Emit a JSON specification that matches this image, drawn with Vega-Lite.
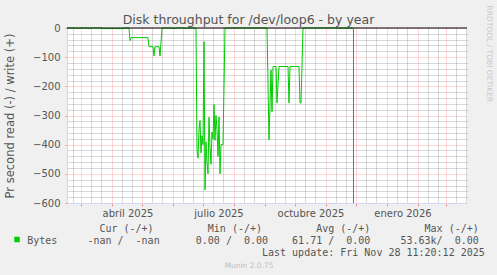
{
  "$schema": "https://vega.github.io/schema/vega-lite/v6.json",
  "width": 400,
  "height": 175,
  "autosize": {"type": "none"},
  "padding": {"left": 67, "top": 28, "right": 30, "bottom": 72},
  "background": "#f0f0f0",
  "view": {"fill": "#ffffff", "stroke": null},
  "title": {
    "text": "Disk throughput for /dev/loop6 - by year",
    "font": "DejaVu Sans",
    "fontSize": 12.5,
    "fontWeight": "normal",
    "color": "#555555",
    "anchor": "middle",
    "frame": "group",
    "baseline": "alphabetic",
    "dx": -18.5,
    "offset": -31.5
  },
  "resolve": {"axis": {"x": "independent", "y": "independent"}},
  "layer": [
    {
      "data": {"values": [
        {"date": "2025-02-15", "value": 0},
        {"date": "2025-02-25", "value": 0},
        {"date": "2025-02-26", "value": -3},
        {"date": "2025-02-27", "value": 0},
        {"date": "2025-03-07", "value": 0},
        {"date": "2025-03-08", "value": -3},
        {"date": "2025-03-10", "value": 0},
        {"date": "2025-03-22", "value": 0},
        {"date": "2025-03-23", "value": -2},
        {"date": "2025-04-12", "value": -2},
        {"date": "2025-04-14", "value": 0},
        {"date": "2025-04-18", "value": 0},
        {"date": "2025-04-19", "value": -43},
        {"date": "2025-04-20", "value": -33},
        {"date": "2025-05-07", "value": -33},
        {"date": "2025-05-08", "value": -64},
        {"date": "2025-05-12", "value": -64},
        {"date": "2025-05-13", "value": -96},
        {"date": "2025-05-14", "value": -64},
        {"date": "2025-05-18", "value": -64},
        {"date": "2025-05-19", "value": -96},
        {"date": "2025-05-21", "value": 0},
        {"date": "2025-05-31", "value": 0},
        {"date": "2025-06-01", "value": -2},
        {"date": "2025-06-05", "value": 0},
        {"date": "2025-06-12", "value": 0},
        {"date": "2025-06-13", "value": -2},
        {"date": "2025-06-17", "value": 0},
        {"date": "2025-06-24", "value": 0},
        {"date": "2025-06-25", "value": -420},
        {"date": "2025-06-26", "value": -446},
        {"date": "2025-06-27", "value": -350},
        {"date": "2025-06-28", "value": -317},
        {"date": "2025-06-29", "value": -428},
        {"date": "2025-06-30", "value": -370},
        {"date": "2025-07-01", "value": -400},
        {"date": "2025-07-02", "value": -47},
        {"date": "2025-07-03", "value": -555},
        {"date": "2025-07-04", "value": -390},
        {"date": "2025-07-05", "value": -461},
        {"date": "2025-07-06", "value": -500},
        {"date": "2025-07-07", "value": -306},
        {"date": "2025-07-08", "value": -410},
        {"date": "2025-07-09", "value": -467},
        {"date": "2025-07-10", "value": -357},
        {"date": "2025-07-11", "value": -380},
        {"date": "2025-07-12", "value": -262},
        {"date": "2025-07-13", "value": -385},
        {"date": "2025-07-14", "value": -300},
        {"date": "2025-07-15", "value": -350},
        {"date": "2025-07-16", "value": -440},
        {"date": "2025-07-17", "value": -305},
        {"date": "2025-07-18", "value": -500},
        {"date": "2025-07-19", "value": -400},
        {"date": "2025-07-20", "value": -400},
        {"date": "2025-07-21", "value": -400},
        {"date": "2025-07-23", "value": 0},
        {"date": "2025-09-03", "value": 0},
        {"date": "2025-09-05", "value": -384},
        {"date": "2025-09-07", "value": -144},
        {"date": "2025-09-08", "value": -287},
        {"date": "2025-09-09", "value": -132},
        {"date": "2025-09-12", "value": -132},
        {"date": "2025-09-13", "value": -257},
        {"date": "2025-09-15", "value": -132},
        {"date": "2025-09-24", "value": -132},
        {"date": "2025-09-25", "value": -257},
        {"date": "2025-09-26", "value": -132},
        {"date": "2025-10-05", "value": -132},
        {"date": "2025-10-06", "value": -257},
        {"date": "2025-10-07", "value": -257},
        {"date": "2025-10-09", "value": 0},
        {"date": "2025-11-28", "value": 0}
      ]},
      "mark": {"type": "line", "strokeWidth": 1, "interpolate": "linear"},
      "encoding": {
        "x": {
          "field": "date",
          "type": "temporal",
          "scale": {"type": "utc", "domain": [
            {"year": 2025, "month": 2, "date": 15, "utc": true},
            {"year": 2026, "month": 3, "date": 22, "utc": true}
          ]},
          "axis": {
            "orient": "bottom",
            "values": [
              {"year": 2025, "month": 3, "date": 1, "utc": true},
              {"year": 2025, "month": 4, "date": 1, "utc": true},
              {"year": 2025, "month": 5, "date": 1, "utc": true},
              {"year": 2025, "month": 6, "date": 1, "utc": true},
              {"year": 2025, "month": 7, "date": 1, "utc": true},
              {"year": 2025, "month": 8, "date": 1, "utc": true},
              {"year": 2025, "month": 9, "date": 1, "utc": true},
              {"year": 2025, "month": 10, "date": 1, "utc": true},
              {"year": 2025, "month": 11, "date": 1, "utc": true},
              {"year": 2025, "month": 12, "date": 1, "utc": true},
              {"year": 2026, "month": 1, "date": 1, "utc": true},
              {"year": 2026, "month": 2, "date": 1, "utc": true},
              {"year": 2026, "month": 3, "date": 1, "utc": true}
            ],
            "grid": true,
            "gridColor": "#ff0000",
            "gridOpacity": 0.3,
            "gridDash": [1, 1],
            "domain": true,
            "domainColor": "#cfd6f8",
            "ticks": true,
            "tickSize": 3,
            "tickColor": "#ff0000",
            "tickOpacity": 0.4,
            "labelExpr": "utcmonth(datum.value)==3 ? 'abril ' + utcyear(datum.value) : utcmonth(datum.value)==6 ? 'julio ' + utcyear(datum.value) : utcmonth(datum.value)==9 ? 'octubre ' + utcyear(datum.value) : utcmonth(datum.value)==0 ? 'enero ' + utcyear(datum.value) : ''",
            "labelOffset": 15.5,
            "labelFont": "DejaVu Sans",
            "labelFontSize": 10,
            "labelColor": "#555555",
            "labelBaseline": "alphabetic",
            "labelPadding": 10.5,
            "labelOverlap": false,
            "labelFlush": false,
            "labelBound": false,
            "title": [
              "\u200b\u00a0\u00a0\u00a0\u00a0\u00a0\u00a0\u00a0\u00a0\u00a0\u00a0\u00a0\u00a0Cur\u00a0(-/+)\u00a0\u00a0\u00a0\u00a0\u00a0\u00a0\u00a0\u00a0\u00a0Min\u00a0(-/+)\u00a0\u00a0\u00a0\u00a0\u00a0\u00a0\u00a0\u00a0\u00a0Avg\u00a0(-/+)\u00a0\u00a0\u00a0\u00a0\u00a0\u00a0\u00a0\u00a0\u00a0Max\u00a0(-/+)",
              "Bytes\u00a0\u00a0\u00a0\u00a0\u00a0-nan\u00a0/\u00a0\u00a0-nan\u00a0\u00a0\u00a0\u00a0\u00a0\u00a00.00\u00a0/\u00a0\u00a00.00\u00a0\u00a0\u00a0\u00a061.71\u00a0/\u00a0\u00a00.00\u00a0\u00a0\u00a0\u00a0\u00a053.63k/\u00a0\u00a00.00",
              "\u200b\u00a0\u00a0\u00a0\u00a0\u00a0\u00a0\u00a0\u00a0\u00a0\u00a0\u00a0\u00a0\u00a0\u00a0\u00a0\u00a0\u00a0\u00a0\u00a0\u00a0\u00a0\u00a0\u00a0\u00a0\u00a0\u00a0\u00a0\u00a0\u00a0\u00a0\u00a0\u00a0\u00a0\u00a0\u00a0\u00a0\u00a0\u00a0\u00a0Last\u00a0update:\u00a0Fri\u00a0Nov\u00a028\u00a011:20:12\u00a02025"
            ],
            "titleFont": "DejaVu Sans Mono",
            "titleFontSize": 10,
            "titleFontWeight": "normal",
            "titleColor": "#555555",
            "titleAlign": "left",
            "titleBaseline": "alphabetic",
            "titleAngle": 0,
            "titleX": -40.3,
            "titleY": 28.6,
            "titleLineHeight": 11.85
          }
        },
        "y": {
          "field": "value",
          "type": "quantitative",
          "scale": {"domain": [-600, 0], "nice": false, "zero": false},
          "axis": {
            "orient": "left",
            "values": [-600, -500, -400, -300, -200, -100, 0],
            "grid": true,
            "gridColor": "#ff0000",
            "gridOpacity": 0.3,
            "gridDash": [1, 1],
            "domain": true,
            "domainColor": "#cfd6f8",
            "ticks": true,
            "tickSize": 2,
            "tickColor": "#ff0000",
            "tickOpacity": 0.4,
            "labelFont": "DejaVu Sans",
            "labelFontSize": 10,
            "labelColor": "#555555",
            "labelPadding": 5,
            "title": "Pr second read (-) / write (+)",
            "titleFont": "DejaVu Sans",
            "titleFontSize": 11.5,
            "titleFontWeight": "normal",
            "titleColor": "#555555",
            "titleAngle": -90,
            "titleAlign": "center",
            "titleBaseline": "alphabetic",
            "titleX": -53.5,
            "titleY": 87.5
          }
        },
        "color": {
          "datum": "Bytes",
          "type": "nominal",
          "scale": {"range": ["#00cc00"]},
          "legend": {
            "orient": "none",
            "legendX": -53,
            "legendY": 208.5,
            "title": null,
            "symbolType": "square",
            "symbolSize": 30,
            "symbolFillColor": "#00cc00",
            "symbolStrokeWidth": 0,
            "labelExpr": "''",
            "labelFontSize": 6,
            "padding": 0,
            "rowPadding": 0
          }
        }
      }
    },
    {
      "data": {"values": [{"v": 0}]},
      "mark": {"type": "rule", "color": "#000000", "strokeWidth": 1},
      "encoding": {
        "y": {
          "field": "v",
          "type": "quantitative",
          "axis": {
            "orient": "right",
            "values": [-580, -560, -540, -520, -480, -460, -440, -420, -380, -360, -340, -320, -280, -260, -240, -220, -180, -160, -140, -120, -80, -60, -40, -20],
            "grid": true,
            "gridColor": "#808080",
            "gridOpacity": 0.6,
            "gridDash": [1, 1],
            "domain": false,
            "ticks": false,
            "labels": false,
            "title": "RRDTOOL / TOBI OETIKER",
            "titleFont": "DejaVu Sans",
            "titleFontSize": 7.5,
            "titleFontWeight": "normal",
            "titleColor": "#c8c8c8",
            "titleAngle": 90,
            "titleAlign": "left",
            "titleBaseline": "middle",
            "titleX": 21.5,
            "titleY": -23
          }
        }
      }
    },
    {
      "data": {"values": [{"date": "2025-11-28T11:20:12Z"}]},
      "mark": {"type": "rule", "color": "#707070", "strokeWidth": 1},
      "encoding": {
        "x": {
          "field": "date",
          "type": "temporal",
          "scale": {"type": "utc"},
          "axis": {
            "orient": "top",
            "values": [
              {"year": 2025, "month": 2, "date": 21, "utc": true},
              {"year": 2025, "month": 3, "date": 11, "utc": true},
              {"year": 2025, "month": 3, "date": 21, "utc": true},
              {"year": 2025, "month": 4, "date": 11, "utc": true},
              {"year": 2025, "month": 4, "date": 21, "utc": true},
              {"year": 2025, "month": 5, "date": 11, "utc": true},
              {"year": 2025, "month": 5, "date": 21, "utc": true},
              {"year": 2025, "month": 6, "date": 11, "utc": true},
              {"year": 2025, "month": 6, "date": 21, "utc": true},
              {"year": 2025, "month": 7, "date": 11, "utc": true},
              {"year": 2025, "month": 7, "date": 21, "utc": true},
              {"year": 2025, "month": 8, "date": 11, "utc": true},
              {"year": 2025, "month": 8, "date": 21, "utc": true},
              {"year": 2025, "month": 9, "date": 11, "utc": true},
              {"year": 2025, "month": 9, "date": 21, "utc": true},
              {"year": 2025, "month": 10, "date": 11, "utc": true},
              {"year": 2025, "month": 10, "date": 21, "utc": true},
              {"year": 2025, "month": 11, "date": 11, "utc": true},
              {"year": 2025, "month": 11, "date": 21, "utc": true},
              {"year": 2025, "month": 12, "date": 11, "utc": true},
              {"year": 2025, "month": 12, "date": 21, "utc": true},
              {"year": 2026, "month": 1, "date": 11, "utc": true},
              {"year": 2026, "month": 1, "date": 21, "utc": true},
              {"year": 2026, "month": 2, "date": 11, "utc": true},
              {"year": 2026, "month": 2, "date": 21, "utc": true},
              {"year": 2026, "month": 3, "date": 11, "utc": true},
              {"year": 2026, "month": 3, "date": 21, "utc": true}
            ],
            "grid": true,
            "gridColor": "#808080",
            "gridOpacity": 0.6,
            "gridDash": [1, 1],
            "domain": false,
            "ticks": false,
            "labels": false,
            "title": "Munin 2.0.75",
            "titleFont": "DejaVu Sans",
            "titleFontSize": 7.5,
            "titleFontWeight": "normal",
            "titleColor": "#c0c0c0",
            "titleAlign": "center",
            "titleBaseline": "alphabetic",
            "titleAngle": 0,
            "titleX": 181.5,
            "titleY": 239
          }
        }
      }
    }
  ]
}
